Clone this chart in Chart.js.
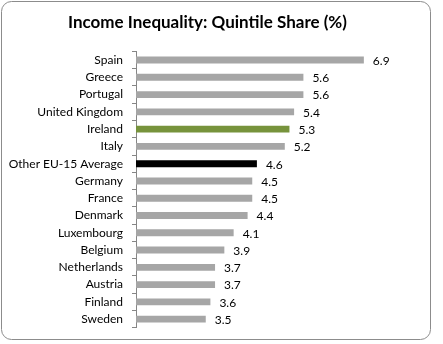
<!DOCTYPE html>
<html>
<head>
<meta charset="utf-8">
<script src="https://cdn.jsdelivr.net/npm/chart.js@4"></script>
<style>
  html, body { margin: 0; padding: 0; background: #fff; }
  #wrap { width: 443px; height: 344px; position: relative; }
</style>
</head>
<body>
<div id="wrap"><canvas id="chart" width="443" height="344"></canvas></div>
<script>
const countries = ["Spain", "Greece", "Portugal", "United Kingdom", "Ireland", "Italy",
  "Other EU-15 Average", "Germany", "France", "Denmark", "Luxembourg", "Belgium",
  "Netherlands", "Austria", "Finland", "Sweden"];
const quintileShare = [6.9, 5.6, 5.6, 5.4, 5.3, 5.2, 4.6, 4.5, 4.5, 4.4, 4.1, 3.9, 3.7, 3.7, 3.6, 3.5];
const barColours = countries.map(c => {
  if (c === "Ireland") return "#77933c";   // highlighted
  if (c === "Other EU-15 Average") return "#000000";
  return "#a6a6a6";
});

const labelFont = { family: "Lato, 'Open Sans', sans-serif", size: 12 };

// rounded frame round the whole chart
const framePlugin = {
  id: "frame",
  beforeDraw(chart) {
    const ctx = chart.ctx;
    ctx.save();
    ctx.fillStyle = "#fff";
    ctx.fillRect(0, 0, chart.width, chart.height);
    ctx.strokeStyle = "#8c8c8c";
    ctx.lineWidth = 1;
    ctx.beginPath();
    ctx.roundRect(1.5, 1.5, 429, 338, 10);
    ctx.stroke();
    ctx.restore();
  }
};

// value labels at the end of each bar
const valueLabels = {
  id: "valueLabels",
  afterDatasetsDraw(chart) {
    const ctx = chart.ctx;
    const meta = chart.getDatasetMeta(0);
    ctx.save();
    ctx.font = labelFont.size + "px " + labelFont.family;
    ctx.fillStyle = "#000";
    ctx.textAlign = "left";
    ctx.textBaseline = "middle";
    meta.data.forEach((bar, i) => {
      ctx.fillText(quintileShare[i].toFixed(1), bar.x + 9, bar.y + 1);
    });
    ctx.restore();
  }
};

new Chart(document.getElementById("chart"), {
  type: "bar",
  data: {
    labels: countries,
    datasets: [{
      data: quintileShare,
      backgroundColor: barColours,
      barPercentage: 0.4,
      categoryPercentage: 1
    }]
  },
  options: {
    indexAxis: "y",
    responsive: false,
    animation: false,
    layout: { padding: { left: 0, right: 28, top: 0, bottom: 15 } },
    plugins: {
      legend: { display: false },
      tooltip: { enabled: false },
      title: {
        display: true,
        text: "Income Inequality: Quintile Share (%)",
        color: "#000",
        font: { family: "Lato, 'Open Sans', sans-serif", size: 17, weight: "bold" },
        padding: { top: 12, bottom: 19 }
      }
    },
    scales: {
      x: {
        display: false,
        min: 2,
        max: 8
      },
      y: {
        afterFit(scale) { scale.width = 136; },
        border: { display: true, color: "#868686", width: 1 },
        grid: { display: true, drawOnChartArea: false, tickLength: 4, color: "#868686", offset: true },
        ticks: { color: "#000", font: labelFont, padding: 9, autoSkip: false }
      }
    }
  },
  plugins: [framePlugin, valueLabels]
});
</script>
</body>
</html>
